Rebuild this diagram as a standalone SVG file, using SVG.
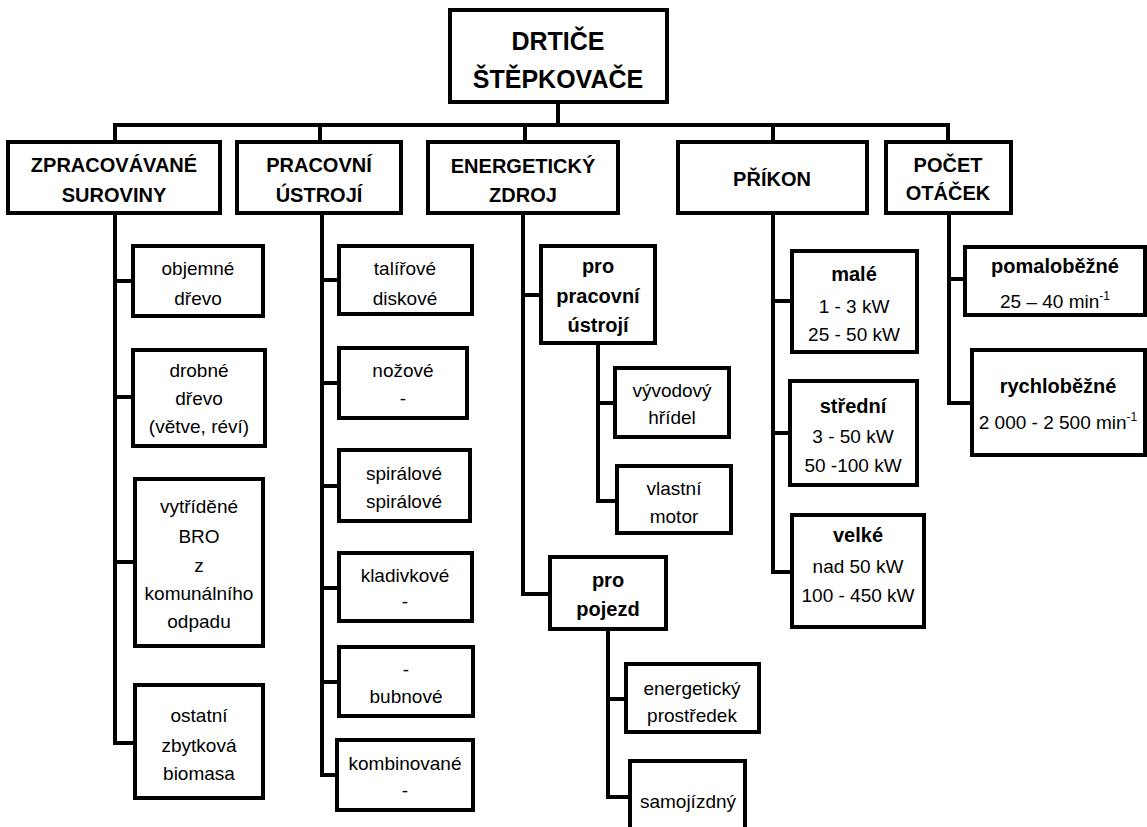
<svg xmlns="http://www.w3.org/2000/svg" width="1147" height="827" viewBox="0 0 1147 827">
<style>
.box{fill:#fff;stroke:#000;stroke-width:4}
.c{fill:none;stroke:#000;stroke-width:4}
text{font-family:"Liberation Sans",Arial,sans-serif;fill:#000;text-anchor:middle}
.tr{font-size:25px;font-weight:bold}
.t1{font-size:20px;font-weight:bold}
.tb{font-size:20px;font-weight:bold}
.t0{font-size:19px}
.sup{font-size:12px}
</style>
<rect width="1147" height="827" fill="#fff"/>
<g id="connectors">
<path class="c" d="M558,102 V125 M115,142 V125 H948 V142 M320,125 V142 M525,125 V142 M773,125 V142"/>
<path class="c" d="M115,213 V743 H135 M115,281 H133 M115,397 H133 M115,562 H135"/>
<path class="c" d="M322,213 V775 H337 M322,280 H339 M322,383 H339 M322,486 H339 M322,588 H339 M322,682 H339"/>
<path class="c" d="M523,213 V594 H550 M523,295 H541 M598,343 V501 H617 M598,403 H615 M608,629 V797 H630 M608,699 H626"/>
<path class="c" d="M773,213 V572 H792 M773,301 H792 M773,433 H790"/>
<path class="c" d="M949,213 V403 H972 M949,279 H965"/>
</g>
<g id="root"><rect class="box" x="450" y="10" width="217" height="92"/><text class="tr" x="558" y="50">DRTIČE</text><text class="tr" x="558" y="88">ŠTĚPKOVAČE</text></g>
<g id="zpracovavane"><rect class="box" x="8" y="142" width="212" height="71"/><text class="t1" x="114" y="172">ZPRACOVÁVANÉ</text><text class="t1" x="114" y="202">SUROVINY</text></g>
<g id="pracovni"><rect class="box" x="237" y="142" width="164" height="71"/><text class="t1" x="319" y="172">PRACOVNÍ</text><text class="t1" x="319" y="202">ÚSTROJÍ</text></g>
<g id="energeticky"><rect class="box" x="428" y="142" width="190" height="71"/><text class="t1" x="523" y="173">ENERGETICKÝ</text><text class="t1" x="523" y="202">ZDROJ</text></g>
<g id="prikon"><rect class="box" x="678" y="142" width="189" height="71"/><text class="t1" x="772" y="186">PŘÍKON</text></g>
<g id="pocet"><rect class="box" x="886" y="142" width="125" height="71"/><text class="t1" x="948" y="172">POČET</text><text class="t1" x="948" y="200">OTÁČEK</text></g>

<g id="objemne"><rect class="box" x="133" y="246" width="130" height="70"/><text class="t0" x="198" y="275">objemné</text><text class="t0" x="198" y="305">dřevo</text></g>
<g id="drobne"><rect class="box" x="133" y="350" width="132" height="96"/><text class="t0" x="199" y="377">drobné</text><text class="t0" x="199" y="405">dřevo</text><text class="t0" x="199" y="433">(větve, réví)</text></g>
<g id="vytridene"><rect class="box" x="135" y="479" width="128" height="167"/><text class="t0" x="199" y="513">vytříděné</text><text class="t0" x="199" y="543">BRO</text><text class="t0" x="199" y="572">z</text><text class="t0" x="199" y="600">komunálního</text><text class="t0" x="199" y="628">odpadu</text></g>
<g id="ostatni"><rect class="box" x="135" y="685" width="128" height="113"/><text class="t0" x="199" y="722">ostatní</text><text class="t0" x="199" y="752">zbytková</text><text class="t0" x="199" y="780">biomasa</text></g>

<g id="talirove"><rect class="box" x="339" y="246" width="133" height="68"/><text class="t0" x="405" y="275">talířové</text><text class="t0" x="405" y="305">diskové</text></g>
<g id="nozove"><rect class="box" x="339" y="348" width="128" height="70"/><text class="t0" x="403" y="377">nožové</text><text class="t0" x="403" y="405">-</text></g>
<g id="spiralove"><rect class="box" x="339" y="450" width="131" height="71"/><text class="t0" x="404" y="480">spirálové</text><text class="t0" x="404" y="508">spirálové</text></g>
<g id="kladivkove"><rect class="box" x="339" y="553" width="133" height="68"/><text class="t0" x="405" y="582">kladivkové</text><text class="t0" x="405" y="608">-</text></g>
<g id="bubnove"><rect class="box" x="339" y="647" width="134" height="69"/><text class="t0" x="406" y="676">-</text><text class="t0" x="406" y="703">bubnové</text></g>
<g id="kombinovane"><rect class="box" x="337" y="740" width="136" height="70"/><text class="t0" x="405" y="770">kombinované</text><text class="t0" x="405" y="797">-</text></g>

<g id="pro-pracovni"><rect class="box" x="541" y="246" width="114" height="97"/><text class="tb" x="598" y="273">pro</text><text class="tb" x="598" y="303">pracovní</text><text class="tb" x="598" y="332">ústrojí</text></g>
<g id="vyvodovy"><rect class="box" x="615" y="368" width="114" height="69"/><text class="t0" x="672" y="397">vývodový</text><text class="t0" x="672" y="424">hřídel</text></g>
<g id="vlastni"><rect class="box" x="617" y="466" width="114" height="67"/><text class="t0" x="674" y="495">vlastní</text><text class="t0" x="674" y="523">motor</text></g>
<g id="pro-pojezd"><rect class="box" x="550" y="557" width="116" height="72"/><text class="tb" x="608" y="587">pro</text><text class="tb" x="608" y="616">pojezd</text></g>
<g id="energeticky-prostredek"><rect class="box" x="626" y="664" width="133" height="68"/><text class="t0" x="692" y="695">energetický</text><text class="t0" x="692" y="722">prostředek</text></g>
<g id="samojizdny"><rect class="box" x="630" y="761" width="115" height="80"/><text class="t0" x="688" y="808">samojízdný</text></g>

<g id="male"><rect class="box" x="792" y="251" width="125" height="101"/><text class="tb" x="854" y="281">malé</text><text class="t0" x="854" y="313">1 - 3 kW</text><text class="t0" x="854" y="341">25 - 50 kW</text></g>
<g id="stredni"><rect class="box" x="790" y="381" width="127" height="104"/><text class="tb" x="853" y="413">střední</text><text class="t0" x="853" y="443">3 - 50 kW</text><text class="t0" x="853" y="472">50 -100 kW</text></g>
<g id="velke"><rect class="box" x="792" y="515" width="132" height="112"/><text class="tb" x="858" y="542">velké</text><text class="t0" x="858" y="573">nad 50 kW</text><text class="t0" x="858" y="602">100 - 450 kW</text></g>

<g id="pomalobezne"><rect class="box" x="965" y="247" width="180" height="68"/><text class="tb" x="1055" y="273">pomaloběžné</text><text class="t0" x="1055" y="308">25 – 40 min<tspan class="sup" dy="-8">-1</tspan></text></g>
<g id="rychlobezne"><rect class="box" x="972" y="350" width="173" height="105"/><text class="tb" x="1058" y="393">rychloběžné</text><text class="t0" x="1058" y="429">2 000 - 2 500 min<tspan class="sup" dy="-8">-1</tspan></text></g>
</svg>
